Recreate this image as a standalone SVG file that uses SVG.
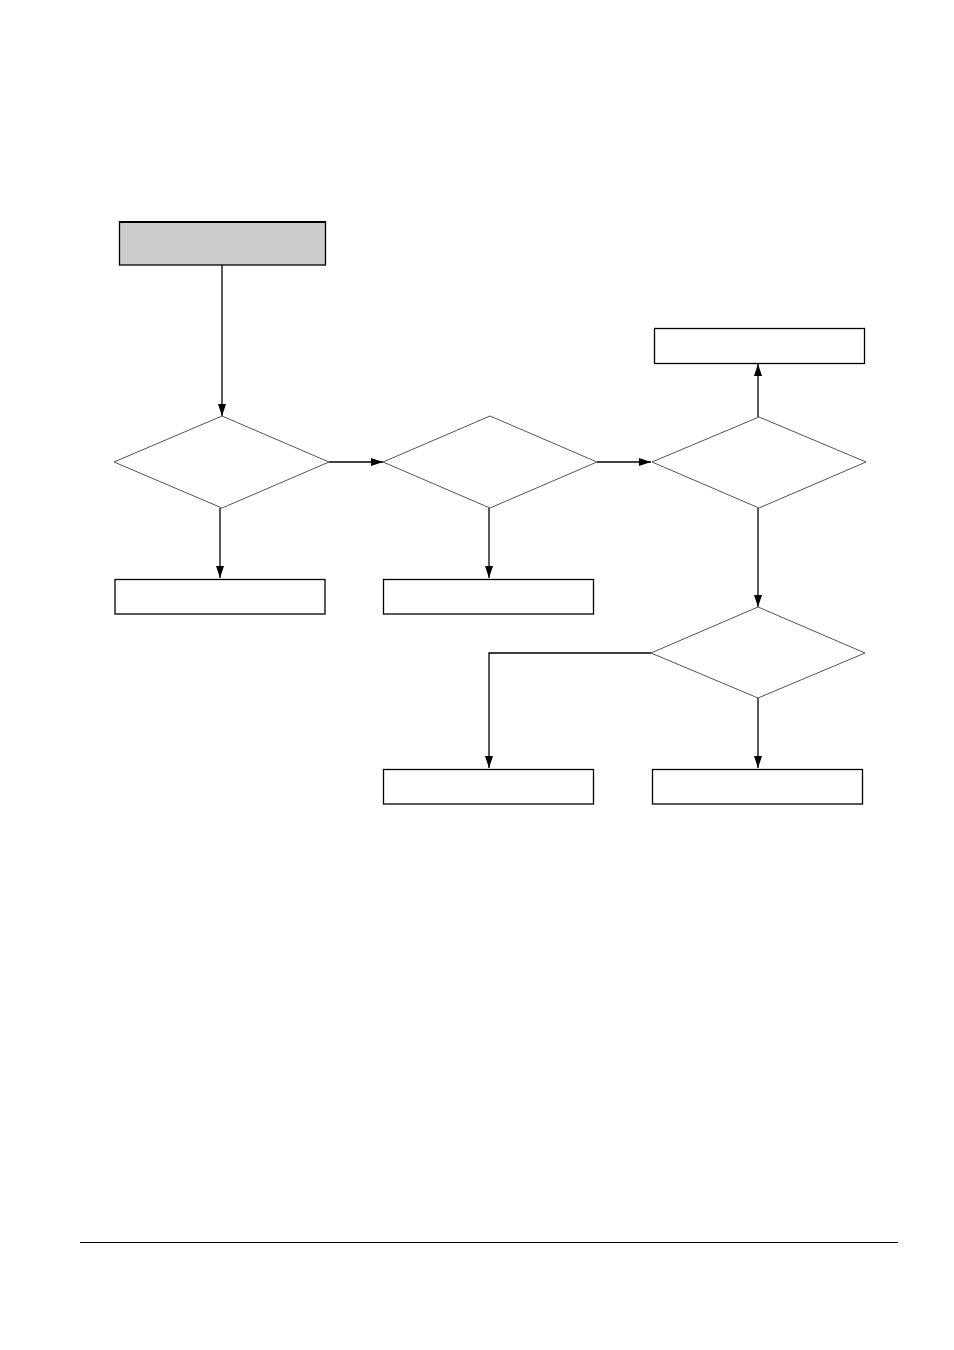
<svg xmlns="http://www.w3.org/2000/svg" width="954" height="1350" viewBox="0 0 954 1350">
<style>
.box{fill:#fff;stroke:#000;stroke-width:1.3}
.start{fill:#cccccc;stroke:#000;stroke-width:1.3}
.dia{fill:#fff;stroke:#555;stroke-width:1}
.con{fill:none;stroke:#000;stroke-width:1.3}
</style>
<defs>
<marker id="ah" viewBox="0 0 12 8" refX="12" refY="4" markerWidth="12" markerHeight="8" markerUnits="userSpaceOnUse" orient="auto">
<path d="M0,0 L12,4 L0,8 Z" fill="#000"/>
</marker>
</defs>
<rect width="954" height="1350" fill="#fff"/>
<g id="connectors">
<path class="con" d="M222,265 V416" marker-end="url(#ah)"/>
<path class="con" d="M329,462 H383" marker-end="url(#ah)"/>
<path class="con" d="M597,462 H651" marker-end="url(#ah)"/>
<path class="con" d="M758,417 V364" marker-end="url(#ah)"/>
<path class="con" d="M220,508 V578" marker-end="url(#ah)"/>
<path class="con" d="M489,508 V578" marker-end="url(#ah)"/>
<path class="con" d="M758,508 V607" marker-end="url(#ah)"/>
<path class="con" d="M651,653 H489 V768" marker-end="url(#ah)"/>
<path class="con" d="M758,698 V768" marker-end="url(#ah)"/>
</g>
<g id="start"><rect class="start" x="119.5" y="222" width="206" height="43"/><line x1="119" y1="222" x2="326" y2="222" stroke="#000" stroke-width="2"/></g>
<g id="d1"><polygon class="dia" points="222,416 329,462 222,508 114,462"/></g>
<g id="d2"><polygon class="dia" points="490,416 597,462 490,508 383,462"/></g>
<g id="d3"><polygon class="dia" points="759,417 866,462 759,508 652,462"/></g>
<g id="d4"><polygon class="dia" points="758,607 865,653 758,698 651,653"/></g>
<g id="b_top"><rect class="box" x="654.5" y="328.5" width="210" height="35"/></g>
<g id="b1"><rect class="box" x="115" y="579.5" width="210" height="34.5"/></g>
<g id="b2"><rect class="box" x="383.5" y="579.5" width="210" height="34.5"/></g>
<g id="b3"><rect class="box" x="383.5" y="769.5" width="210" height="34.5"/></g>
<g id="b4"><rect class="box" x="652.5" y="769.5" width="210" height="34.5"/></g>
<g id="footer"><line x1="80" y1="1242.5" x2="898" y2="1242.5" stroke="#000" stroke-width="1"/></g>
</svg>
